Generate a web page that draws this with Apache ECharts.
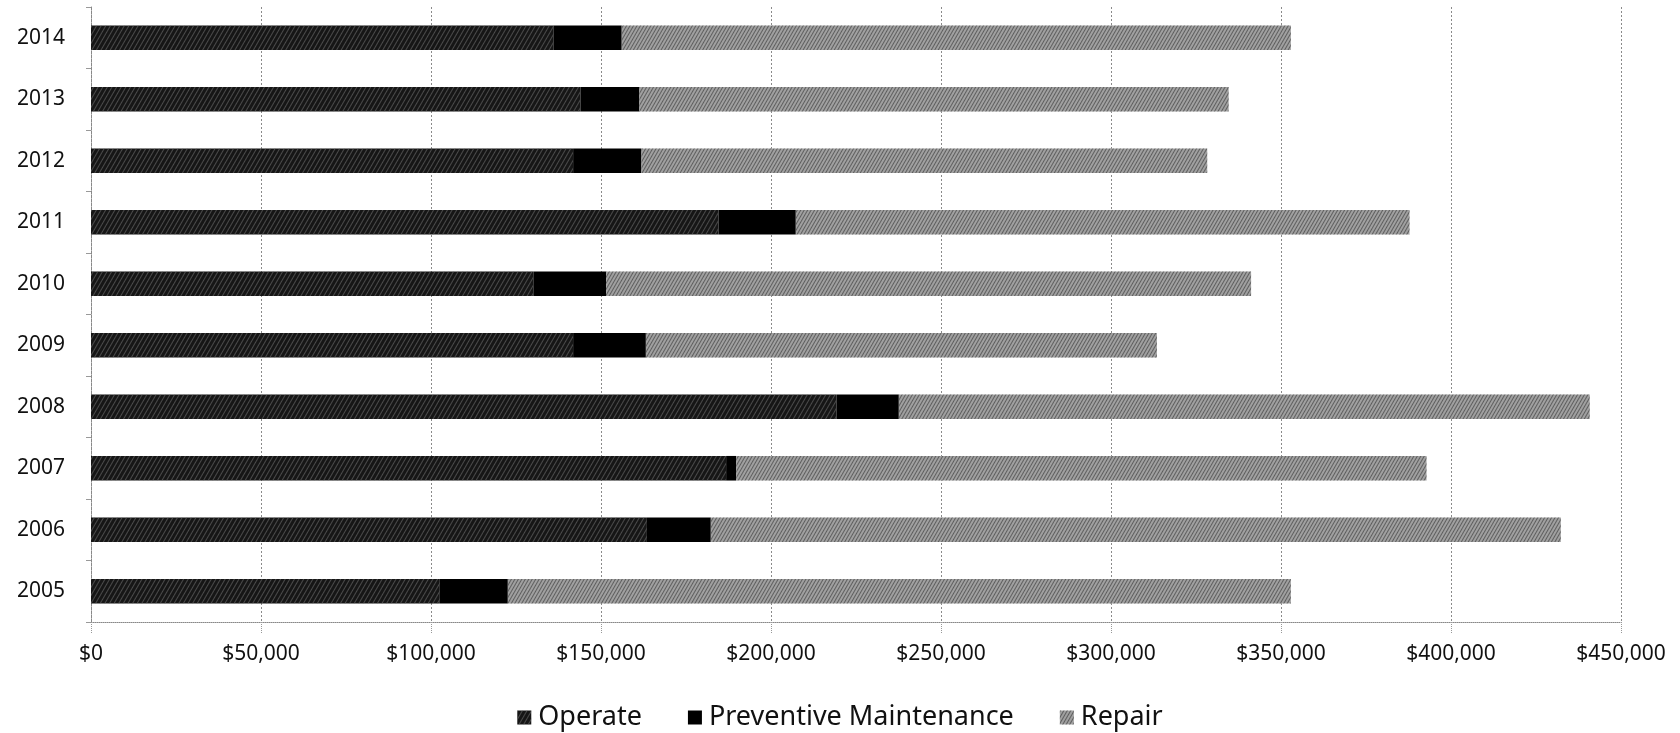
<!DOCTYPE html>
<html>
<head>
<meta charset="utf-8">
<script src="https://cdn.jsdelivr.net/npm/echarts@6/dist/echarts.min.js"></script>
<style>
html,body{margin:0;padding:0;background:#fff;}
#chart{width:1680px;height:733px;}
</style>
</head>
<body>
<div id="chart"></div>
<script>
// Data (values in dollars), categories bottom to top
const years = ['2005','2006','2007','2008','2009','2010','2011','2012','2013','2014'];
const operate = [102600, 163500, 186800, 219300, 141800, 130100, 184600, 141800, 144000, 136100];
const preventiveMaintenance = [20000, 18800, 3000, 18300, 21400, 21400, 22700, 20100, 17300, 20000];
const repair = [230300, 250000, 203000, 203200, 150300, 189700, 180500, 166400, 173300, 196800];
const xTicks = [0, 50000, 100000, 150000, 200000, 250000, 300000, 350000, 400000, 450000];

const fontFamily = '"Noto Sans", "Open Sans", sans-serif';
const chart = echarts.init(document.getElementById('chart'), null, {renderer: 'canvas'});

function fmt(v) {
  return '$' + v.toString().replace(/\B(?=(\d{3})+(?!\d))/g, ',');
}

chart.setOption({
  animation: false,
  backgroundColor: '#ffffff',
  grid: {left: 91, right: 59, top: 7, bottom: 111, containLabel: false},
  legend: {
    top: 699,
    left: 'center',
    itemWidth: 14,
    itemHeight: 14,
    itemGap: 46,
    icon: 'rect',
    textStyle: {fontFamily: fontFamily, fontSize: 27, color: '#111', padding: [0, 0, 0, 2]},
    data: ['Operate', 'Preventive Maintenance', 'Repair']
  },
  xAxis: {
    type: 'value',
    min: xTicks[0],
    max: xTicks[xTicks.length - 1],
    interval: xTicks[1] - xTicks[0],
    axisLine: {show: true, lineStyle: {color: '#888', type: 'dotted', width: 1}},
    axisTick: {show: true, length: 12, inside: false, lineStyle: {color: '#999', type: 'dotted'}},
    splitLine: {show: true, lineStyle: {color: '#8a8a8a', type: [2, 2], width: 1}},
    axisLabel: {
      margin: 22,
      fontFamily: fontFamily,
      fontSize: 21,
      color: '#111',
      formatter: fmt
    }
  },
  yAxis: {
    type: 'category',
    data: years,
    axisLine: {show: true, lineStyle: {color: '#888', type: 'dotted'}},
    axisTick: {show: true, length: 5, lineStyle: {color: '#999'}},
    axisLabel: {margin: 26, fontFamily: fontFamily, fontSize: 21, color: '#111'}
  },
  series: [
    {
      name: 'Operate', type: 'bar', stack: 'total', barWidth: '40%', data: operate,
      itemStyle: {
        color: '#161616',
        decal: {symbol: 'rect', dashArrayX: [1, 0], dashArrayY: [1, 3], rotation: -Math.PI / 3, color: 'rgba(110,110,110,0.6)'}
      }
    },
    {
      name: 'Preventive Maintenance', type: 'bar', stack: 'total', data: preventiveMaintenance,
      itemStyle: {color: '#000000'}
    },
    {
      name: 'Repair', type: 'bar', stack: 'total', data: repair,
      itemStyle: {
        color: '#a0a0a0',
        decal: {symbol: 'rect', dashArrayX: [1, 0], dashArrayY: [1, 2], rotation: -Math.PI / 3, color: 'rgba(50,50,50,0.6)'}
      }
    }
  ]
});
</script>
</body>
</html>
